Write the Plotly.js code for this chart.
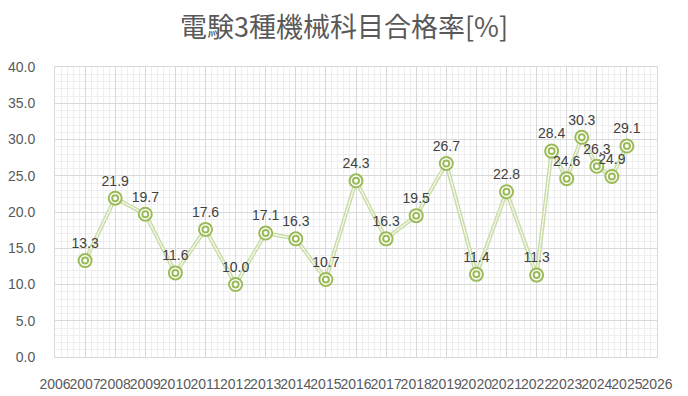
<!DOCTYPE html>
<html>
<head>
<meta charset="utf-8">
<script src="https://cdn.plot.ly/plotly-3.0.1.min.js"></script>
<style>html,body{margin:0;padding:0;background:#fff;}#chart{width:688px;height:396px;}</style>
</head>
<body>
<div id="chart"></div>
<script>
var years = [2007, 2008, 2009, 2010, 2011, 2012, 2013, 2014, 2015, 2016, 2017, 2018, 2019, 2020, 2021, 2022, 2022.5, 2023, 2023.5, 2024, 2024.5, 2025];
var passRate = [13.3, 21.9, 19.7, 11.6, 17.6, 10.0, 17.1, 16.3, 10.7, 24.3, 16.3, 19.5, 26.7, 11.4, 22.8, 11.3, 28.4, 24.6, 30.3, 26.3, 24.9, 29.1];
var titleText = '電験3種機械科目合格率[%]';

var green = '#9bbb59';
var labels = passRate.map(function(v){ return v.toFixed(1); });

var traces = [
  {x: years, y: passRate, mode: 'lines', line: {color: '#c9dba6', width: 4}, hoverinfo: 'skip', showlegend: false},
  {x: years, y: passRate, mode: 'lines', line: {color: '#f4f8ec', width: 1.3}, hoverinfo: 'skip', showlegend: false},
  {x: years, y: passRate, mode: 'markers+text', text: labels, textposition: 'top center',
   textfont: {family: 'Liberation Sans, Arial, sans-serif', size: 14, color: '#404040'},
   marker: {symbol: 'circle', size: 13, color: '#ffffff', line: {color: green, width: 2}}, showlegend: false, cliponaxis: false},
  {x: years, y: passRate, mode: 'markers',
   marker: {symbol: 'circle-open', size: 6, color: green, line: {color: green, width: 2}}, showlegend: false}
];

var tickFont = {family: 'Liberation Sans, Arial, sans-serif', size: 14, color: '#595959'};

var layout = {
  width: 688, height: 396,
  margin: {l: 55, r: 31, t: 67, b: 39},
  paper_bgcolor: '#ffffff', plot_bgcolor: '#ffffff',
  title: {text: titleText, x: 0.5, xanchor: 'center', y: 0.93, yanchor: 'middle',
          font: {family: 'Noto Sans CJK JP, sans-serif', size: 27, color: '#595959'}},
  xaxis: {range: [2006, 2026], tickmode: 'linear', tick0: 2006, dtick: 1, tickangle: 0,
          showgrid: true, gridcolor: '#d9d9d9', gridwidth: 1,
          minor: {dtick: 0.2, showgrid: true, gridcolor: '#eeeeee', gridwidth: 1},
          showline: true, linecolor: '#d9d9d9', mirror: true, zeroline: false,
          ticks: '', ticklabelstandoff: 14, tickfont: tickFont, fixedrange: true},
  yaxis: {range: [0, 40], tickmode: 'linear', tick0: 0, dtick: 5, tickformat: '.1f',
          showgrid: true, gridcolor: '#d9d9d9', gridwidth: 1,
          minor: {dtick: 1, showgrid: true, gridcolor: '#eeeeee', gridwidth: 1},
          showline: true, linecolor: '#d9d9d9', mirror: true, zeroline: false,
          ticks: '', ticklabelstandoff: 16, tickfont: tickFont, fixedrange: true}
};

Plotly.newPlot('chart', traces, layout, {displayModeBar: false, staticPlot: true});
</script>
</body>
</html>
